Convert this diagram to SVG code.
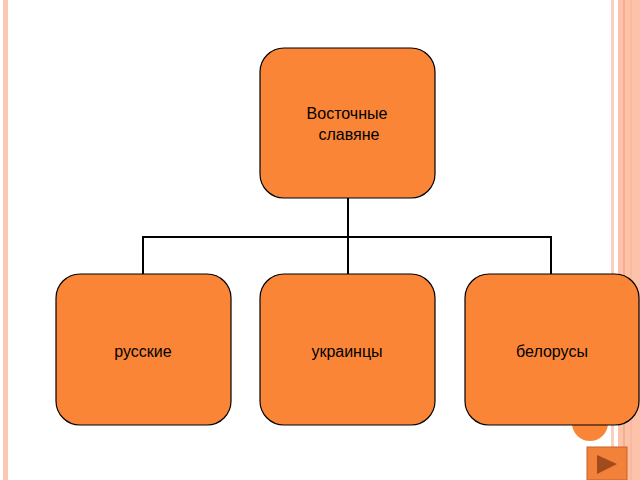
<svg xmlns="http://www.w3.org/2000/svg" width="640" height="480" viewBox="0 0 640 480">
<style>
.box{fill:#fb8537;stroke:#000;stroke-width:1.2}
.t{font-family:"Liberation Sans",Arial,sans-serif;font-size:16px;fill:#000;text-anchor:middle}
.c{fill:none;stroke:#000;stroke-width:2}
</style>
<rect width="640" height="480" fill="#fff"/>
<rect x="3" y="0" width="5" height="480" fill="#fbc8b3"/>
<rect x="611" y="0" width="3" height="480" fill="#fbcfc0"/>
<rect x="618" y="0" width="22" height="480" fill="#fcc2aa"/>
<rect x="623" y="0" width="2" height="480" fill="#f6ae90"/>
<rect x="630" y="0" width="2" height="480" fill="#f9b9a0"/>
<circle cx="590" cy="423" r="18" fill="#fb8537"/>
<g id="nav"><rect x="587" y="447" width="40" height="33" fill="#f2813a" stroke="#c9602a"/><polygon points="597,455 597,474 617,464" fill="#a24a1c"/></g>
<g id="connectors">
<polyline class="c" points="348,198 348,237"/>
<polyline class="c" points="143,274 143,237 551,237 551,274"/>
<polyline class="c" points="348,237 348,274"/>
</g>
<g id="n0"><rect class="box" x="260" y="48" width="175" height="150" rx="24"/><text class="t" x="347" y="119">Восточные</text><text class="t" x="349" y="140">славяне</text></g>
<g id="n1"><rect class="box" x="56" y="274" width="175" height="151" rx="24"/><text class="t" x="143" y="357">русские</text></g>
<g id="n2"><rect class="box" x="260" y="274" width="175" height="151" rx="24"/><text class="t" x="347" y="357">украинцы</text></g>
<g id="n3"><rect class="box" x="465" y="274" width="174" height="151" rx="24"/><text class="t" x="552" y="357">белорусы</text></g>
</svg>
